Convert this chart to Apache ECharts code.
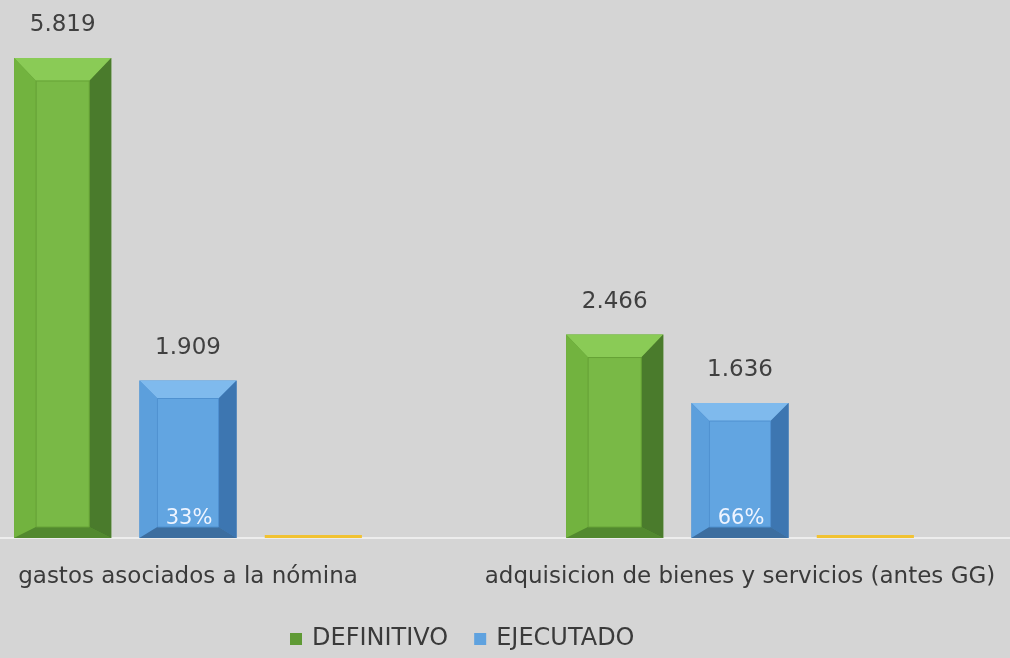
<!DOCTYPE html>
<html lang="es">
<head>
<meta charset="UTF-8">
<title>Definitivo vs Ejecutado</title>
<style>
  html, body { margin: 0; padding: 0; background: #d5d5d5; }
  #box { width: 1010px; height: 658px; }
</style>
</head>
<body>
<div id="box"></div>
<script src="https://cdn.jsdelivr.net/npm/echarts@6/dist/echarts.min.js"></script>
<script>
// datos
var categorias = ['gastos asociados a la nómina', 'adquisicion de bienes y servicios (antes GG)'];
var definitivo = [5819, 2466];
var ejecutado = [1909, 1636];
var porcentajes = [33, 66];      // % ejecutado, texto dentro de la barra azul
var pctSerie = [0.33, 0.66];     // tercera serie (casi cero en la escala)

var FONT = '"DejaVu Sans", "Noto Sans", sans-serif';
var BAR_RATIO = 0.176;   // ancho de barra / ancho de categoria
var GAP_RATIO = 0.29;    // hueco entre barras / ancho de barra

function miles(v) {
    return String(v).replace(/\B(?=(\d{3})+(?!\d))/g, '.');
}

// barra con efecto biselado
function barraBisel(idx, c, bev, etiqueta, interior) {
    return function (params, api) {
        var cat = api.value(0), v = api.value(1);
        var p0 = api.coord([cat, 0]);
        var p1 = api.coord([cat, v]);
        var band = api.size([1, 0])[0];
        var w = band * BAR_RATIO, gap = w * GAP_RATIO;
        var groupW = 3 * w + 2 * gap;
        var x = p0[0] - groupW / 2 + idx * (w + gap);
        var y = p1[1], h = p0[1] - p1[1];
        var children = [];
        if (!bev) {
            h = Math.max(h, 3);
            children.push({ type: 'rect', shape: { x: x, y: p0[1] - h, width: w, height: h }, style: { fill: c.face } });
            return { type: 'group', children: children };
        }
        var b = bev.side, bt = bev.top, bb = bev.bottom;
        children.push({ type: 'rect', shape: { x: x, y: y, width: w, height: h }, style: { fill: c.border } });
        children.push({ type: 'polygon', shape: { points: [[x, y], [x + w, y], [x + w - b, y + bt], [x + b, y + bt]] }, style: { fill: c.top } });
        children.push({ type: 'polygon', shape: { points: [[x, y], [x + b, y + bt], [x + b, y + h - bb], [x, y + h]] }, style: { fill: c.left } });
        children.push({ type: 'polygon', shape: { points: [[x + w, y], [x + w, y + h], [x + w - b, y + h - bb], [x + w - b, y + bt]] }, style: { fill: c.right } });
        children.push({ type: 'polygon', shape: { points: [[x, y + h], [x + b, y + h - bb], [x + w - b, y + h - bb], [x + w, y + h]] }, style: { fill: c.bottom } });
        children.push({ type: 'rect', shape: { x: x + b, y: y + bt, width: w - 2 * b, height: h - bt - bb }, style: { fill: c.face, stroke: c.line, lineWidth: 1 } });
        if (etiqueta) {
            children.push({ type: 'text', style: { x: x + w / 2, y: y - 21, text: miles(v), fill: '#404040', font: '23px ' + FONT, align: 'center', verticalAlign: 'bottom' } });
        }
        if (interior) {
            children.push({ type: 'text', style: { x: x + w / 2 + 1, y: y + h - bb + 2, text: interior[params.dataIndex] + '%', fill: '#eef4ff', font: '21px ' + FONT, align: 'center', verticalAlign: 'bottom' } });
        }
        return { type: 'group', children: children };
    };
}

var verde = { border: '#5e9a34', top: '#8acb56', left: '#72b33f', right: '#4a7b2c', bottom: '#52892f', face: '#79b946', line: '#66a236' };
var azul  = { border: '#4a8bcb', top: '#7fbaed', left: '#5c9fdc', right: '#3d76b1', bottom: '#3d6e9f', face: '#62a5e1', line: '#4f91d0' };
var amarillo = { face: '#f1c232' };

var myChart = echarts.init(document.getElementById('box'));
var option = {
    backgroundColor: '#d5d5d5',
    animation: false,
    grid: { left: -88, right: -6, top: 43, bottom: 120, outerBoundsMode: 'none', containLabel: false },
    legend: {
        data: ['DEFINITIVO', 'EJECUTADO'],
        bottom: 2,
        left: 285,
        icon: 'rect',
        itemWidth: 12,
        itemHeight: 12,
        itemGap: 26,
        textStyle: { color: '#3a3a3a', fontSize: 24, fontFamily: FONT, padding: [0, 0, 0, 5] }
    },
    xAxis: {
        type: 'category',
        data: categorias,
        axisLine: { lineStyle: { color: '#ededed', width: 2 } },
        axisTick: { show: false },
        axisLabel: { color: '#3a3a3a', fontSize: 23, fontFamily: FONT, margin: 28, interval: 0 }
    },
    yAxis: {
        type: 'value',
        min: 0,
        max: 6000,
        show: false,
        splitLine: { show: false }
    },
    series: [
        {
            name: 'DEFINITIVO', type: 'custom',
            itemStyle: { color: '#5f9a35' },
            data: definitivo.map(function (v, i) { return [i, v]; }),
            renderItem: barraBisel(0, verde, { side: 22, top: 23, bottom: 11 }, true, null)
        },
        {
            name: 'EJECUTADO', type: 'custom',
            itemStyle: { color: '#5fa2df' },
            data: ejecutado.map(function (v, i) { return [i, v]; }),
            renderItem: barraBisel(1, azul, { side: 18, top: 18, bottom: 11 }, true, porcentajes)
        },
        {
            name: '% EJECUCION', type: 'custom',
            itemStyle: { color: '#f1c232' },
            data: pctSerie.map(function (v, i) { return [i, v]; }),
            renderItem: barraBisel(2, amarillo, null, false, null)
        }
    ]
};
myChart.setOption(option);

window.addEventListener('resize', function () {
    myChart.resize();
});
</script>
</body>
</html>
